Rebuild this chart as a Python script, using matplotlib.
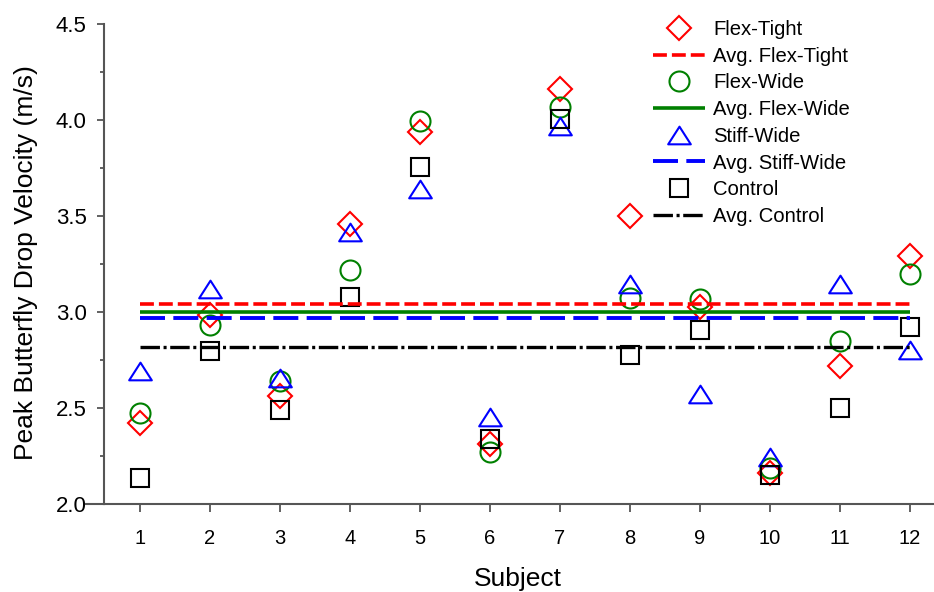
import matplotlib
matplotlib.use('Agg')
import matplotlib.pyplot as plt
from matplotlib.path import Path

plt.rcParams['font.family'] = ['Liberation Sans', 'DejaVu Sans']
plt.rcParams['lines.scale_dashes'] = False

# ---------------- data ----------------
subjects = list(range(1, 13))
flex_tight = [2.424, 2.983, 2.564, 3.46, 3.936, 2.313, 4.161, 3.50, 3.026, 2.163, 2.718, 3.29]
flex_wide = [2.474, 2.931, 2.642, 3.22, 3.996, 2.272, 4.065, 3.075, 3.07, 2.189, 2.85, 3.20]
stiff_wide = [2.692, 3.12, 2.656, 3.415, 3.643, 2.454, 3.97, 3.144, 2.573, 2.246, 3.144, 2.803]
control = [2.137, 2.798, 2.49, 3.08, 3.754, 2.339, 4.005, 2.776, 2.905, 2.153, 2.499, 2.92]
averages = [3.044, 3.000, 2.971, 2.819]
series_labels = ['Flex-Tight', 'Flex-Wide', 'Stiff-Wide', 'Control']
avg_labels = ['Avg. Flex-Tight', 'Avg. Flex-Wide', 'Avg. Stiff-Wide', 'Avg. Control']
y_ticks = [2.0, 2.5, 3.0, 3.5, 4.0, 4.5]
y_minor_ticks = [2.25, 2.75, 3.25, 3.75, 4.25]
x_label = 'Subject'
y_label = 'Peak Butterfly Drop Velocity (m/s)'

# ---------------- styles ----------------
tri = Path([(-1, -0.78), (1, -0.78), (0, 0.78), (-1, -0.78)],
           [Path.MOVETO, Path.LINETO, Path.LINETO, Path.CLOSEPOLY])
marker_styles = [
    dict(marker='D', ms=11.9, color='#ff0000'),
    dict(marker='o', ms=14.4, color='#008000'),
    dict(marker=tri, ms=16.3, color='#0000ff'),
    dict(marker='s', ms=13.0, color='#000000'),
]
line_styles = [
    dict(color='#ff0000', lw=2.6, dashes=(10, 3.6)),
    dict(color='#008000', lw=2.6, ls='-'),
    dict(color='#0000ff', lw=2.8, dashes=(18, 6)),
    dict(color='#000000', lw=2.4, dashes=(14, 2.6, 2.2, 2.6)),
]
spine_color = '#555555'

fig = plt.figure(figsize=(9.34, 5.92), dpi=100)
ax = fig.add_axes([104 / 934, 87.7 / 592, 830 / 934, 480.5 / 592])

all_series = [flex_tight, flex_wide, stiff_wide, control]
for vals, lab, avg, alab, ms_, ls_ in zip(all_series, series_labels, averages,
                                           avg_labels, marker_styles, line_styles):
    ax.plot(subjects, vals, ls='none', marker=ms_['marker'], ms=ms_['ms'],
            mfc='none', mec=ms_['color'], mew=1.5, label=lab, zorder=2)
    ax.plot([subjects[0], subjects[-1]], [avg, avg], label=alab, zorder=3,
            solid_capstyle='butt', dash_capstyle='butt', **ls_)

ax.set_xlim(0.486, 12.343)
ax.set_ylim(2.0, 4.5)
ax.set_xticks(subjects)
ax.set_yticks(y_ticks)
ax.set_yticks(y_minor_ticks, minor=True)
ax.set_yticklabels([f'{v:.1f}' for v in y_ticks])

for s in ['top', 'right']:
    ax.spines[s].set_visible(False)
for s in ['left', 'bottom']:
    ax.spines[s].set_color(spine_color)
    ax.spines[s].set_linewidth(1.5)

ax.tick_params(axis='x', which='major', direction='out', length=6, width=1.3,
               color=spine_color, labelsize=14.5, pad=11.5)
ax.tick_params(axis='y', which='major', direction='out', length=5, width=1.3,
               color=spine_color, labelsize=16, pad=7.5)
ax.tick_params(axis='y', which='minor', direction='out', length=3, width=1.3,
               color=spine_color)

# small extension of the x axis line to the left of the y axis
ax.plot([-18 / 830, 0], [0, 0], transform=ax.transAxes, clip_on=False,
        color=spine_color, lw=1.5)

fig.text(518 / 934, 1 - 579 / 592, x_label, fontsize=19, ha='center', va='center')
fig.text(26 / 934, 1 - 263 / 592, y_label, fontsize=19, rotation=90,
         ha='center', va='center')

ax.legend(loc='upper left', bbox_to_anchor=(653 / 934, 1 - 20 / 592),
          bbox_transform=fig.transFigure, frameon=False, fontsize=14.6,
          handlelength=2.55, handletextpad=0.42, labelspacing=0.38,
          borderpad=0, borderaxespad=0, numpoints=1)

fig.savefig('out.png', dpi=100)
